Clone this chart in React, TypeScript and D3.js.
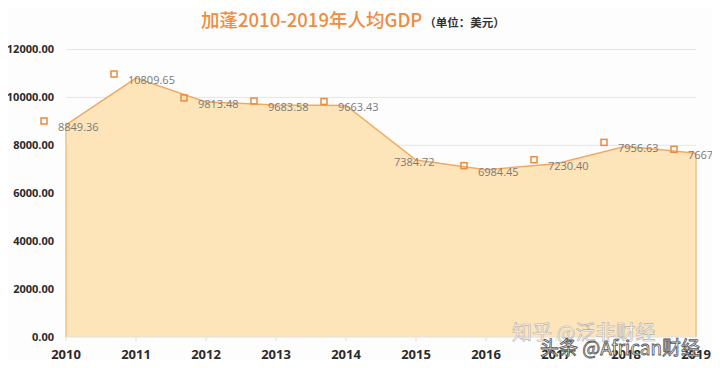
import { useEffect, useRef } from "react";
import * as d3 from "d3";

const years = ["2010", "2011", "2012", "2013", "2014", "2015", "2016", "2017", "2018", "2019"];
const gdp = [8849.36, 10809.65, 9813.48, 9683.58, 9663.43, 7384.72, 6984.45, 7230.4, 7956.63, 7667.37];
const markerShown = [true, true, true, true, true, false, true, true, true, true];
const yTicks = [0, 2000, 4000, 6000, 8000, 10000, 12000];

const App = () => {
  const svgRef = useRef<SVGSVGElement>(null);

  useEffect(() => {
    const svg = d3.select(svgRef.current);
    svg.selectAll("*").remove();

    const width = 720;
    const height = 368;

    svg.append("rect")
      .attr("x", 0.5).attr("y", 0.5)
      .attr("width", width - 1).attr("height", height - 1)
      .attr("fill", "#fdfdfd")
      .attr("stroke", "#dcdcdc");

    const x = d3.scalePoint().domain(years).range([66, 696]);
    const y = d3.scaleLinear().domain([0, 12000]).range([337, 49.5]);

    // title
    const title = svg.append("text")
      .attr("x", 201)
      .attr("y", 27)
      .style("font-family", "'Noto Sans CJK SC', 'Noto Sans', sans-serif");
    title.append("tspan")
      .attr("fill", "#ef8c3f")
      .attr("font-size", "18.5px")
      .attr("font-weight", "500")
      .text("加蓬2010-2019年人均GDP");
    title.append("tspan")
      .attr("dx", 2)
      .attr("fill", "#333")
      .attr("font-size", "11.5px")
      .attr("font-weight", "bold")
      .text("（单位：美元）");

    // grid
    svg.selectAll(".grid")
      .data(yTicks.slice(1))
      .enter()
      .append("line")
      .attr("x1", 66).attr("x2", 696)
      .attr("y1", (d) => y(d)).attr("y2", (d) => y(d))
      .attr("stroke", "#e6e6e6")
      .attr("stroke-width", 1);

    // area
    const area = d3.area<number>()
      .x((d, i) => x(years[i])!)
      .y0(y(0))
      .y1((d) => y(d));
    svg.append("path")
      .datum(gdp)
      .attr("d", area)
      .attr("fill", "#fde5b9");

    const line = d3.line<number>()
      .x((d, i) => x(years[i])!)
      .y((d) => y(d));
    svg.append("path")
      .datum(gdp)
      .attr("d", line)
      .attr("fill", "none")
      .attr("stroke", "#f0aa66")
      .attr("stroke-width", 1.5);

    // area side edges
    svg.append("line")
      .attr("x1", x(years[0])!).attr("x2", x(years[0])!)
      .attr("y1", y(gdp[0])).attr("y2", y(0))
      .attr("stroke", "#f0c08a").attr("stroke-width", 1.5);
    svg.append("line")
      .attr("x1", x(years[9])!).attr("x2", x(years[9])!)
      .attr("y1", y(gdp[9])).attr("y2", y(0))
      .attr("stroke", "#f0c08a").attr("stroke-width", 1.5);

    // x baseline + ticks
    svg.append("line")
      .attr("x1", 66).attr("x2", 696)
      .attr("y1", y(0)).attr("y2", y(0))
      .attr("stroke", "#e0e0e0");
    svg.selectAll(".xtick")
      .data(years)
      .enter()
      .append("line")
      .attr("x1", (d) => x(d)!).attr("x2", (d) => x(d)!)
      .attr("y1", y(0)).attr("y2", y(0) + 4)
      .attr("stroke", "#e0e0e0");

    // markers (offset left of the points, as in the source chart)
    svg.selectAll(".marker")
      .data(gdp.map((v, i) => ({ v, i })).filter((d) => markerShown[d.i]))
      .enter()
      .append("rect")
      .attr("x", (d) => x(years[d.i])! - 22 - 3)
      .attr("y", (d) => y(d.v) - 4 - 3)
      .attr("width", 6)
      .attr("height", 6)
      .attr("fill", "none")
      .attr("stroke", "#ec8a3c")
      .attr("stroke-width", 1.5);

    // value labels
    svg.selectAll(".val")
      .data(gdp)
      .enter()
      .append("text")
      .attr("x", (d, i) => x(years[i])! - (i === 5 ? 22 : 8))
      .attr("y", (d) => y(d) + 2)
      .attr("dy", "0.35em")
      .attr("fill", "#7a7a7a")
      .attr("font-size", "11px")
      .style("font-family", "'Open Sans', 'DejaVu Sans', sans-serif")
      .text((d) => d.toFixed(2));

    // y axis labels
    svg.selectAll(".ylab")
      .data(yTicks)
      .enter()
      .append("text")
      .attr("x", 54)
      .attr("y", (d) => y(d))
      .attr("dy", "0.35em")
      .attr("text-anchor", "end")
      .attr("fill", "#2b2b2b")
      .attr("font-size", "11px")
      .attr("font-weight", "bold")
      .style("font-family", "'Open Sans', 'DejaVu Sans', sans-serif")
      .text((d) => d.toFixed(2));

    // x axis labels
    svg.selectAll(".xlab")
      .data(years)
      .enter()
      .append("text")
      .attr("x", (d) => x(d)!)
      .attr("y", 354)
      .attr("dy", "0.35em")
      .attr("text-anchor", "middle")
      .attr("fill", "#2b2b2b")
      .attr("font-size", "13px")
      .attr("font-weight", "bold")
      .style("font-family", "'Open Sans', 'DejaVu Sans', sans-serif")
      .text((d) => d);

    // watermarks
    svg.append("text")
      .attr("x", 512)
      .attr("y", 340)
      .attr("fill", "white")
      .attr("stroke", "#aaa")
      .attr("stroke-width", 0.6)
      .attr("font-size", "20px")
      .attr("opacity", 0.9)
      .style("font-family", "'Noto Sans CJK SC', sans-serif")
      .text("知乎 @泛非财经");
    svg.append("text")
      .attr("x", 540)
      .attr("y", 355)
      .attr("fill", "white")
      .attr("stroke", "#555")
      .attr("stroke-width", 0.8)
      .attr("font-size", "19px")
      .style("font-family", "'Noto Sans CJK SC', sans-serif")
      .text("头条 @African财经");
  }, []);

  return (
    <div style={{ margin: -8 }}>
      <svg ref={svgRef} width={720} height={368} style={{ display: "block" }}></svg>
    </div>
  );
};

export default App;
